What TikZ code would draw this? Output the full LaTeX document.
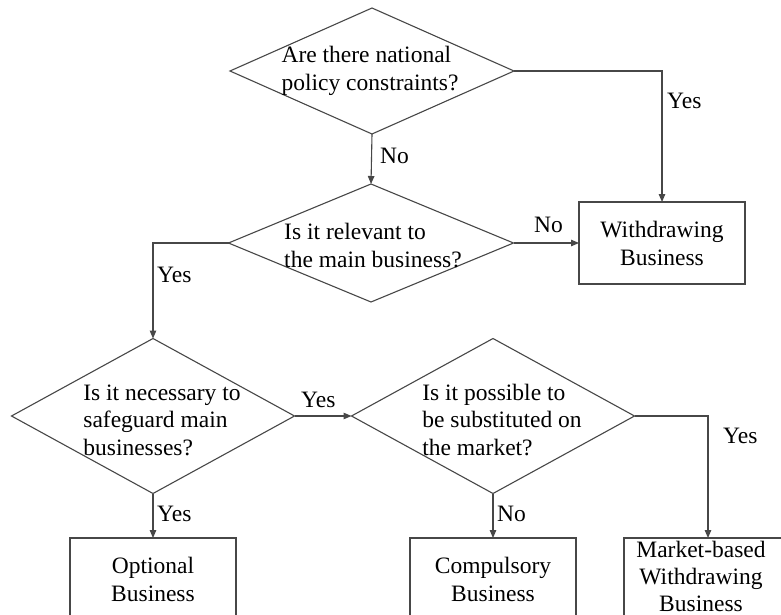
\documentclass[tikz,border=0pt]{standalone}
\usepackage{fontspec}
\setmainfont{Liberation Serif}
\usetikzlibrary{shapes.geometric,arrows.meta}
\begin{document}
\begin{tikzpicture}[x=1pt,y=-1pt,
  line/.style={draw=black!72, line width=1.1pt},
  arr/.style={line, -{Triangle[length=8pt,width=6.5pt]}},
  dia/.style={shape=diamond, line, inner sep=0pt, outer sep=0pt},
  box/.style={shape=rectangle, line, inner sep=0pt, outer sep=0pt, minimum width=166pt, minimum height=82pt},
  txt/.style={font=\fontsize{23.5}{28}\selectfont, inner sep=0pt},
  txtb/.style={font=\fontsize{23.5}{27.5}\selectfont, inner sep=0pt, align=left},
  lab/.style={font=\fontsize{23.5}{28}\selectfont, inner sep=0pt, anchor=west}]
\clip (0,0) rectangle (781,615);
\fill[white] (0,0) rectangle (781,615);
% diamonds
\node[dia, minimum width=284pt, minimum height=126pt] (d1) at (372,71) {};
\node[txt, align=left] (t1) at (370,71) {Are there national\\policy constraints?};
\node[dia, minimum width=285pt, minimum height=118pt] (d2) at (371,243) {};
\node[txt, align=left] (t2) at (373,246) {Is it relevant to\\the main business?};
\node[dia, minimum width=283pt, minimum height=155pt] (d3) at (153,416) {};
\node[txtb] (t3) at (162,420) {Is it necessary to\\safeguard main\\businesses?};
\node[dia, minimum width=283pt, minimum height=155pt] (d4) at (493,416) {};
\node[txtb] (t4) at (502,420) {Is it possible to\\be substituted on\\the market?};
% boxes
\node[box, align=center, txt] (w) at (662,243) {Withdrawing\\Business};
\node[box, align=center, txt] (o) at (153,579) {Optional\\Business};
\node[box, align=center, txt] (c) at (493,579) {Compulsory\\Business};
\node[box, minimum width=168pt] (m) at (708,579) {};
\node[txt, align=center, font=\fontsize{23.5}{27}\selectfont] (mt) at (701,576) {Market-based\\Withdrawing\\Business};
% connectors
\draw[arr] (d1.south) -- (d2.north);
\draw[arr] (d1.east) -| (w.north);
\draw[arr] (d2.east) -- (w.west);
\draw[arr] (d2.west) -| (d3.north);
\draw[arr] (d3.south) -- (o.north);
\draw[arr] (d3.east) -- (d4.west);
\draw[arr] (d4.south) -- (c.north);
\draw[arr] (d4.east) -| (m.north);
% labels
\node[lab] (l1) at (380,156) {No};
\node[lab] (l2) at (667,101) {Yes};
\node[lab] (l3) at (534,225) {No};
\node[lab] (l4) at (157,275) {Yes};
\node[lab] (l5) at (157,514) {Yes};
\node[lab] (l6) at (301,400) {Yes};
\node[lab] (l7) at (497,514) {No};
\node[lab] (l8) at (723,436) {Yes};
\end{tikzpicture}
\end{document}
